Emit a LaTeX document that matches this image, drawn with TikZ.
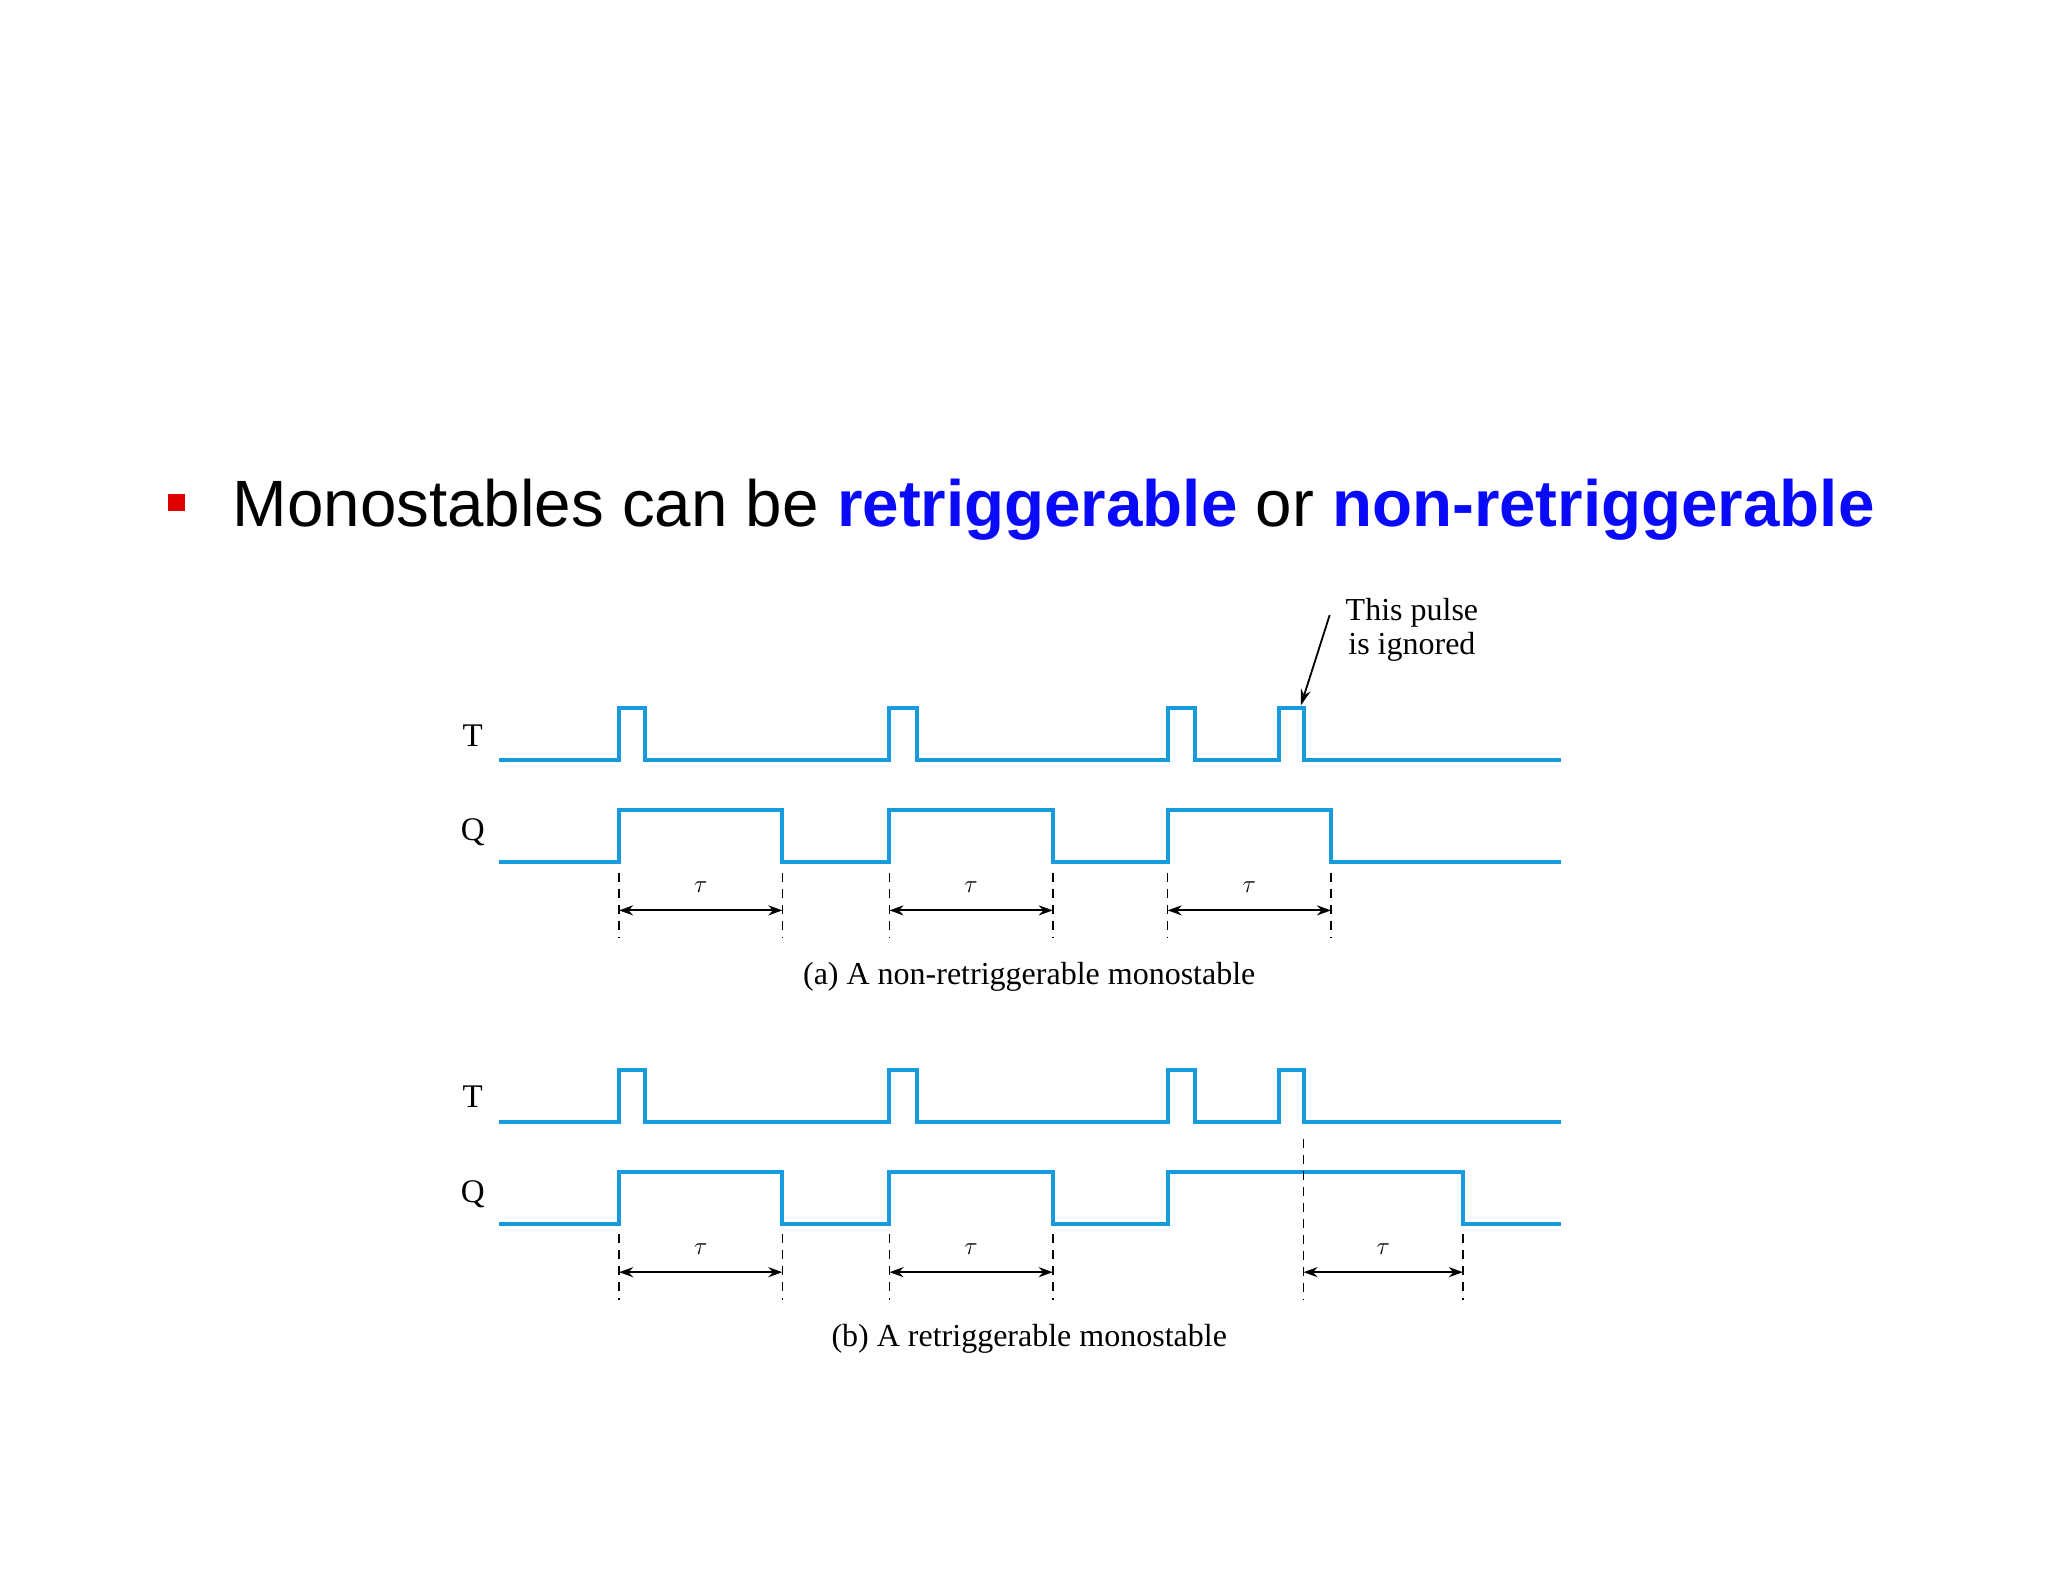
\documentclass[tikz,border=0pt]{standalone}
\usepackage{fontspec}
\setmainfont{Liberation Serif}
\newfontfamily\titlefont{Liberation Sans}
\usetikzlibrary{arrows.meta}
\definecolor{wave}{RGB}{22,155,222}
\definecolor{tblue}{RGB}{10,10,250}
\definecolor{bred}{RGB}{225,0,0}
\tikzset{
  wv/.style={draw=wave,line width=4pt,line join=miter},
  dsh/.style={draw=black,line width=1.6pt,dash pattern=on 9pt off 7pt},
  dimarrow/.style={draw=black,line width=2pt,{Stealth[length=14pt,width=10pt]}-{Stealth[length=14pt,width=10pt]}},
  lab/.style={font=\fontsize{33pt}{36pt}\selectfont},
  taulab/.style={font=\fontsize{42pt}{44pt}\selectfont},
  captxt/.style={font=\fontsize{32pt}{36pt}\selectfont}
}
\begin{document}
\begin{tikzpicture}[x=1.3061pt,y=-1.3061pt]
\useasboundingbox[fill=white] (0,0) rectangle (1568,1211.2);
% title
\fill[bred] (129,378) rectangle (142,391);
\node[anchor=base west,inner sep=0pt,font=\titlefont\fontsize{65.5pt}{70pt}\selectfont] (title) at (178,403)
 {Monostables can be \textcolor{tblue}{\bfseries retriggerable} or \textcolor{tblue}{\bfseries non-retriggerable}};
% ---------- (a)
\node[lab] (Ta) at (362,563) {T};
\node[lab] (Qa) at (362,637) {Q};
\draw[wv] (382,582) -| (474,542) -| (494,582) -| (681,542) -| (702,582) -| (894,542) -| (915,582) -| (979,542) -| (998,582) -- (1195,582);
\draw[wv] (382,660) -| (474,620) -| (599,660) -| (681,620) -| (806,660) -| (894,620) -| (1019,660) -- (1195,660);
\foreach \x in {474,599,681,806,894,1019}{
  \coordinate (a\x t) at (\x,668); \coordinate (a\x b) at (\x,718);
  \draw[dsh] (a\x t) -- (a\x b);}
\foreach \l/\r in {474/599,681/806,894/1019}{
  \coordinate (al\l) at (\l,697); \coordinate (ar\l) at (\r,697);
  \draw[dimarrow] (al\l) -- (ar\l);
  \node[taulab] (ta\l) at ({(\l+\r)/2},679) {$\tau$};}
\node[captxt] (capa) at (788,748) {(a) A non-retriggerable monostable};
\node[captxt,align=center] (ign) at (1081,482) {This pulse\\[-2pt]is ignored};
\coordinate (ignA) at (1018,471);
\coordinate (ignB) at (996,540);
\draw[line width=1.8pt,-{Stealth[length=16pt,width=10pt]}] (ignA) -- (ignB);
% ---------- (b)
\node[lab] (Tb) at (362,840) {T};
\node[lab] (Qb) at (362,914) {Q};
\draw[wv] (382,859) -| (474,819) -| (494,859) -| (681,819) -| (702,859) -| (894,819) -| (915,859) -| (979,819) -| (998,859) -- (1195,859);
\draw[wv] (382,937) -| (474,897) -| (599,937) -| (681,897) -| (806,937) -| (894,897) -| (1120,937) -- (1195,937);
\foreach \x in {474,599,681,806,1120}{
  \coordinate (b\x t) at (\x,945); \coordinate (b\x b) at (\x,995);
  \draw[dsh] (b\x t) -- (b\x b);}
\coordinate (b998t) at (998,872); \coordinate (b998b) at (998,995);
\draw[dsh] (b998t) -- (b998b);
\foreach \l/\r in {474/599,681/806,998/1120}{
  \coordinate (bl\l) at (\l,974); \coordinate (br\l) at (\r,974);
  \draw[dimarrow] (bl\l) -- (br\l);
  \node[taulab] (tb\l) at ({(\l+\r)/2},956) {$\tau$};}
\node[captxt] (capb) at (788,1025) {(b) A retriggerable monostable};
\end{tikzpicture}
\end{document}
